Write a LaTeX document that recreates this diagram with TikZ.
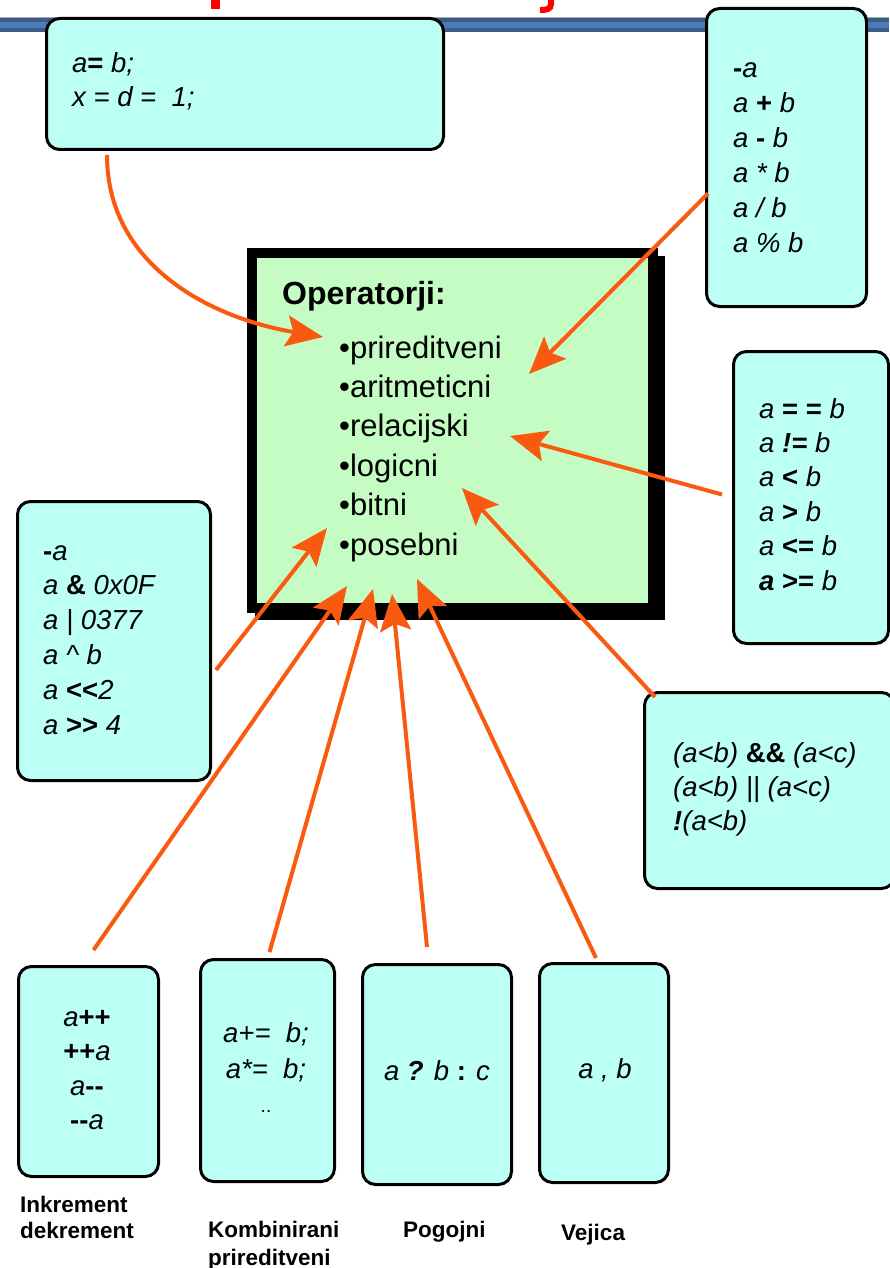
\documentclass[tikz,border=0pt]{standalone}
\usepackage{fontspec}
\setmainfont{Liberation Sans}
\usetikzlibrary{arrows.meta,calc}

\definecolor{boxcyan}{RGB}{187,255,245}
\definecolor{panelgreen}{RGB}{196,252,196}
\definecolor{arrorange}{RGB}{250,90,15}
\definecolor{bardark}{RGB}{58,92,138}
\definecolor{barlight}{RGB}{78,122,182}
\definecolor{titlered}{RGB}{255,0,0}

% bold upright operator inside italic code
\newcommand{\opb}[1]{\textbf{\upshape #1}}

\begin{document}
\begin{tikzpicture}[x=1pt,y=-1pt,
  card/.style={draw=black, line width=3pt, fill=boxcyan, rounded corners=13pt,
               inner sep=0pt, anchor=north west},
  code/.style={font=\fontsize{27.5}{33}\selectfont\itshape, inner sep=0pt, anchor=base west},
  ccode/.style={code, anchor=base},
  item/.style={font=\fontsize{31}{37}\selectfont, inner sep=0pt, anchor=base west},
  caption/.style={font=\fontsize{22.5}{27}\selectfont\bfseries, inner sep=0pt, anchor=base west},
  flow/.style={draw=arrorange, line width=4pt,
               -{Stealth[length=37pt,width=31pt,inset=7pt]}}]

\useasboundingbox (0,0) rectangle (889,1268);
\fill[white] (0,0) rectangle (889,1268);

% clipped red title glyphs at the top edge
\fill[titlered] (211,0) rectangle (220,9);
\draw[titlered, line width=6pt] (551,0) -- (551,4) .. controls (551,9) and (547,10) .. (540,10);

% blue header bar
\fill[black!35] (0,17) rectangle (889,18.5);
\fill[bardark] (0,18.5) rectangle (889,32);
\fill[barlight] (0,22) rectangle (889,28);

% central panel with drop shadow
\fill[black] (255,256) rectangle (665,620);
\node[draw=black, line width=10pt, fill=panelgreen, minimum width=401pt,
      minimum height=355pt, inner sep=0pt, anchor=north west] (P) at (247,248) {};
\node[font=\fontsize{32}{38}\selectfont\bfseries, inner sep=0pt, anchor=base west]
  (ptitle) at (282,304) {Operatorji:};
\foreach \t [count=\i] in {prireditveni, aritmeticni, relacijski, logicni, bitni, posebni}
  \node[item] (it\i) at (339,{358+39.4*(\i-1)}) {\textbullet\t};

% operator cards
\node[card, minimum width=397pt, minimum height=131pt] (A) at (45,17) {};
\node[card, minimum width=160pt, minimum height=298pt] (B) at (705,7) {};
\node[card, minimum width=155pt, minimum height=292pt] (C) at (732,350) {};
\node[card, minimum width=193pt, minimum height=279pt] (D) at (16,500) {};
\node[card, minimum width=250pt, minimum height=196pt] (E) at (643,691) {};
\node[card, minimum width=140pt, minimum height=210pt] (F) at (17,965) {};
\node[card, minimum width=134pt, minimum height=222pt] (G) at (199,958) {};
\node[card, minimum width=149pt, minimum height=220pt] (H) at (361,963) {};
\node[card, minimum width=129pt, minimum height=219pt] (I) at (538,962) {};

% arrow tips on the panel
\coordinate (tPri) at (323,337);
\coordinate (tAri) at (529,374);
\coordinate (tRel) at (510,436);
\coordinate (tLog) at (462,488);
\coordinate (tBit) at (327,528);
\coordinate (tPosA) at (347,586);
\coordinate (tPosB) at (373,589);
\coordinate (tPosC) at (392,594);
\coordinate (tPosD) at (417,579);

% connectors
\draw[flow] ($(A.south west)+(62,4)$) .. controls ($(A.south west)+(62,114)$) and (210,318) .. (tPri);
\draw[flow] ($(B.west)+(3,36)$) -- (tAri);
\draw[flow] ($(C.west)+(-10,-3)$) -- (tRel);
\draw[flow] ($(E.north west)+(12,6)$) -- (tLog);
\draw[flow] ($(D.east)+(4,29)$) -- (tBit);
\draw[flow] ($(F.north)+(5,-15)$) -- (tPosA);
\draw[flow] ($(G.north)+(2,-6)$) -- (tPosB);
\draw[flow] ($(H.north)+(-10,-16)$) -- (tPosC);
\draw[flow] ($(I.north)+(-8,-4)$) -- (tPosD);

% card contents
\node[code] (A1) at (72,73) {a\opb{=} b;};
\node[code] (A2) at (72,107) {x = d = \ 1;};

\foreach \t [count=\i] in {{\opb{-}a}, {a \opb{+} b}, {a \opb{-} b}, {a * b}, {a / b}, {a \% b}}
  \node[code] (B\i) at (733,{78+34.8*(\i-1)}) {\t};

\foreach \t [count=\i] in {{a \opb{= =} b}, {a \textbf{!=} b}, {a \opb{<} b}, {a \opb{>} b},
                           {a \opb{<=} b}, {\textbf{a} \opb{>=} b}}
  \node[code] (C\i) at (759,{418+34.4*(\i-1)}) {\t};

\foreach \t [count=\i] in {{\opb{-}a}, {a \opb{\&} 0x0F}, {a | 0377}, {a \textasciicircum{} b},
                           {a \opb{<{}<}2}, {a \opb{>{}>} 4}}
  \node[code] (D\i) at (43,{560+34.8*(\i-1)}) {\t};

\foreach \t [count=\i] in {{(a<b) \opb{\&\&} (a<c)}, {(a<b) || (a<c)}, {\textbf{!}(a<b)}}
  \node[code] (E\i) at (673,{762+34*(\i-1)}) {\t};

\foreach \t [count=\i] in {{a\opb{++}}, {\opb{++}a}, {a\opb{-{}-}}, {\opb{-{}-}a}}
  \node[ccode] (F\i) at (87,{1026+34.6*(\i-1)}) {\t};

\node[ccode] (G1) at (266,1042) {a+= \ b;};
\node[ccode] (G2) at (266,1078) {a*= \ b;};
\node[ccode, font=\fontsize{19}{22}\selectfont] (G3) at (266,1112) {..};

\node[ccode] (H1) at (437,1080) {a \textbf{?} b \opb{:} c};
\node[ccode] (I1) at (605,1078) {a , b};

% captions under the bottom cards
\node[caption] (capF1) at (20,1212) {Inkrement};
\node[caption] (capF2) at (20,1238) {dekrement};
\node[caption] (capG1) at (208,1237) {Kombinirani};
\node[caption] (capG2) at (208,1265) {prireditveni};
\node[caption] (capH) at (403,1237) {Pogojni};
\node[caption] (capI) at (561,1240) {Vejica};

\end{tikzpicture}
\end{document}
